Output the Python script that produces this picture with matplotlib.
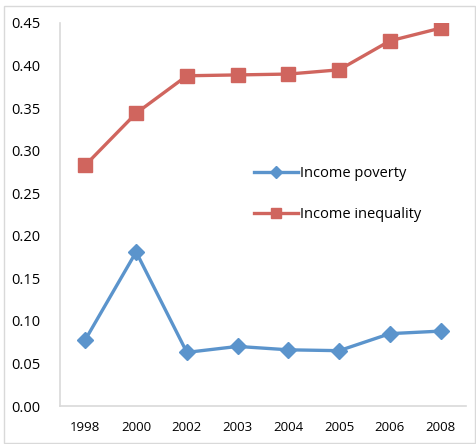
import matplotlib as mpl
mpl.use("Agg")
import matplotlib.pyplot as plt
from matplotlib.patches import Rectangle

# data
years = ["1998", "2000", "2002", "2003", "2004", "2005", "2006", "2008"]
poverty = [0.078, 0.181, 0.063, 0.070, 0.066, 0.065, 0.085, 0.088]
inequality = [0.283, 0.344, 0.388, 0.389, 0.390, 0.395, 0.429, 0.444]
yticks = [0.00, 0.05, 0.10, 0.15, 0.20, 0.25, 0.30, 0.35, 0.40, 0.45]

C_BLUE = "#5B94CC"
C_RED = "#D0655E"
GRID_C = "#D9D9D9"

mpl.rcParams["font.family"] = ["Open Sans", "DejaVu Sans"]
mpl.rcParams["font.size"] = 10

fig = plt.figure(figsize=(4.76, 4.44), dpi=100)
ax = fig.add_axes([60 / 476, 1 - 406 / 444, 406 / 476, 383 / 444])

x = list(range(len(years)))
ax.plot(x, poverty, color=C_BLUE, lw=2.4, marker="D", ms=8.5,
        label="Income poverty", zorder=3)
ax.plot(x, inequality, color=C_RED, lw=2.4, marker="s", ms=9.5,
        label="Income inequality", zorder=3)

ax.set_xlim(-0.5, len(years) - 0.5)
ax.set_ylim(0, 0.45)
ax.set_xticks(x)
ax.set_xticklabels(years, fontsize=9.5)
ax.set_yticks(yticks)
ax.set_yticklabels([f"{v:.2f}" for v in yticks], fontsize=10.5)
ax.tick_params(axis="x", length=0, pad=11)
ax.tick_params(axis="y", length=0, pad=14)

for s in ["top", "right"]:
    ax.spines[s].set_visible(False)
for s in ["left", "bottom"]:
    ax.spines[s].set_color(GRID_C)
    ax.spines[s].set_linewidth(1.2)

ax.legend(loc="upper left", bbox_to_anchor=(0.445, 0.66), frameon=False,
          fontsize=10.5, handlelength=3.0, handletextpad=0.15,
          labelspacing=1.75, markerscale=0.75)

# outer chart border
fig.patches.append(Rectangle((4 / 476, 1 / 444), 471 / 476, 437 / 444,
                             transform=fig.transFigure, fill=False,
                             edgecolor=GRID_C, lw=1.0))

fig.savefig("out.png", dpi=100)
